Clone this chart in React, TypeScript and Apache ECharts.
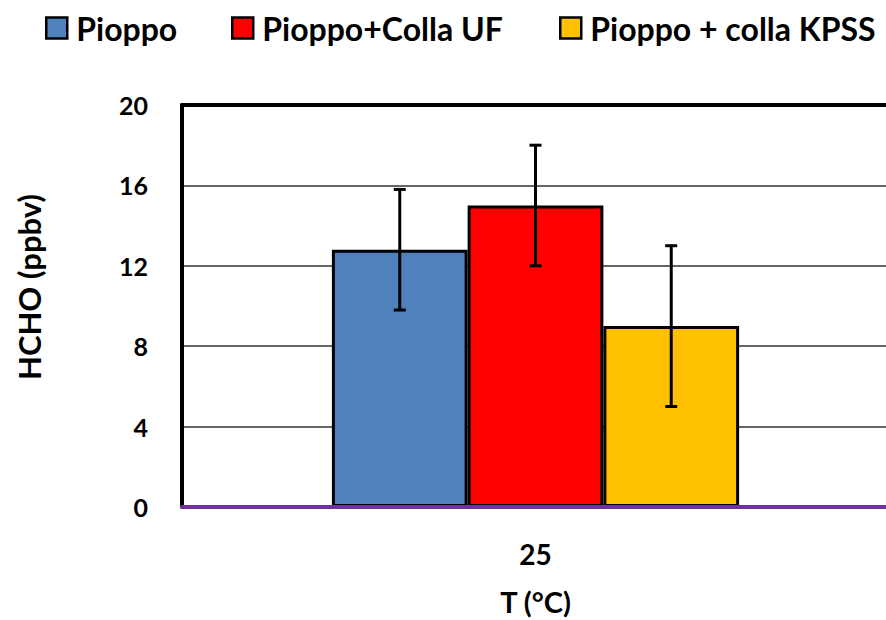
import React, { useEffect, useRef } from "react";
import * as echarts from "echarts";

const categories = ["25"];
const seriesNames = ["Pioppo", "Pioppo+Colla UF", "Pioppo + colla KPSS"];
const seriesColors = ["#4F81BD", "#FF0000", "#FFC000"];
const pioppo = [12.8];
const pioppoUF = [15];
const pioppoKPSS = [9];
const pioppoErr = [3];
const pioppoUFErr = [3];
const pioppoKPSSErr = [4];
const yTicks = [0, 4, 8, 12, 16, 20];
const yTitle = "HCHO (ppbv)";
const xTitle = "T (°C)";

const values = [pioppo, pioppoUF, pioppoKPSS];
const errors = [pioppoErr, pioppoUFErr, pioppoKPSSErr];
const GAP = 0.424;
const FONT = "Lato";

export default function App() {
  const ref = useRef<HTMLDivElement>(null);
  useEffect(() => {
    if (!ref.current) return;
    const chart = echarts.init(ref.current, null, { renderer: "svg" });
    const barSeries = seriesNames.map((name, i) => ({
      name,
      type: "bar",
      data: values[i],
      barGap: "0%",
      barCategoryGap: GAP * 100 + "%",
      itemStyle: { color: seriesColors[i], borderColor: "#000", borderWidth: 3 },
      z: 2,
    }));
    const errSeries = seriesNames.map((name, i) => ({
      name: name + " err",
      type: "custom",
      z: 5,
      data: categories.map((c, k) => [k, values[i][k] - errors[i][k], values[i][k] + errors[i][k]]),
      renderItem: (params: any, api: any) => {
        const idx = api.value(0);
        const band = api.size([1, 0])[0];
        const bw = (band * (1 - GAP)) / 3;
        const x = api.coord([idx, 0])[0] + (i - 1) * bw;
        const yLo = api.coord([idx, api.value(1)])[1];
        const yHi = api.coord([idx, api.value(2)])[1];
        const cap = 6;
        const st = { stroke: "#000", lineWidth: 3 };
        return {
          type: "group",
          children: [
            { type: "line", shape: { x1: x, y1: yLo, x2: x, y2: yHi }, style: st },
            { type: "line", shape: { x1: x - cap, y1: yLo, x2: x + cap, y2: yLo }, style: st },
            { type: "line", shape: { x1: x - cap, y1: yHi, x2: x + cap, y2: yHi }, style: st },
          ],
        };
      },
    }));
    const legendLefts = [40, 226, 554];
    chart.setOption({
      animation: false,
      textStyle: { fontFamily: FONT },
      legend: seriesNames.map((n, i) => ({
        data: [n],
        left: legendLefts[i],
        top: 7,
        itemWidth: 21,
        itemHeight: 21,
        itemGap: 0,
        icon: "rect",
        itemStyle: { borderColor: "#000", borderWidth: 2.5 },
        textStyle: { fontFamily: FONT, fontWeight: "bold", fontSize: 32, color: "#000", padding: [0, 0, 0, 4] },
        selectedMode: false,
      })),
      grid: { left: 182, top: 105, width: 707, height: 402, outerBoundsMode: "none" },
      graphic: [
        {
          type: "text",
          x: 29,
          y: 287,
          rotation: Math.PI / 2,
          style: {
            text: yTitle,
            fontFamily: FONT,
            fontWeight: "bold",
            fontSize: 31,
            fill: "#000",
            align: "center",
            verticalAlign: "middle",
          },
        },
      ],
      xAxis: [
        {
          type: "category",
          data: categories,
          position: "bottom",
          z: 10,
          axisLine: { lineStyle: { color: "#7030A0", width: 4 } },
          axisTick: { show: false },
          axisLabel: { fontFamily: FONT, fontWeight: "bold", fontSize: 28, color: "#000", margin: 33 },
          name: xTitle,
          nameLocation: "middle",
          nameGap: 80,
          nameTextStyle: { fontFamily: FONT, fontWeight: "bold", fontSize: 29, color: "#000" },
        },
        {
          type: "category",
          data: categories,
          position: "top",
          z: 10,
          axisLine: { lineStyle: { color: "#000", width: 4 } },
          axisTick: { show: false },
          axisLabel: { show: false },
        },
      ],
      yAxis: {
        type: "value",
        min: 0,
        max: 20,
        interval: 4,
        axisLine: { show: true, lineStyle: { color: "#000", width: 4 } },
        axisTick: { show: false },
        axisLabel: {
          fontFamily: FONT,
          fontWeight: "bold",
          fontSize: 25,
          color: "#000",
          margin: 34,
          formatter: (v: number) => (yTicks.includes(v) ? String(v) : ""),
        },
        splitLine: { lineStyle: { color: "#333", width: 1.5 } },
      },
      series: [...barSeries, ...errSeries],
    });
    return () => chart.dispose();
  }, []);
  return (
    <div
      ref={ref}
      style={{ position: "absolute", left: 0, top: 0, width: 886, height: 620, background: "#fff" }}
    />
  );
}
